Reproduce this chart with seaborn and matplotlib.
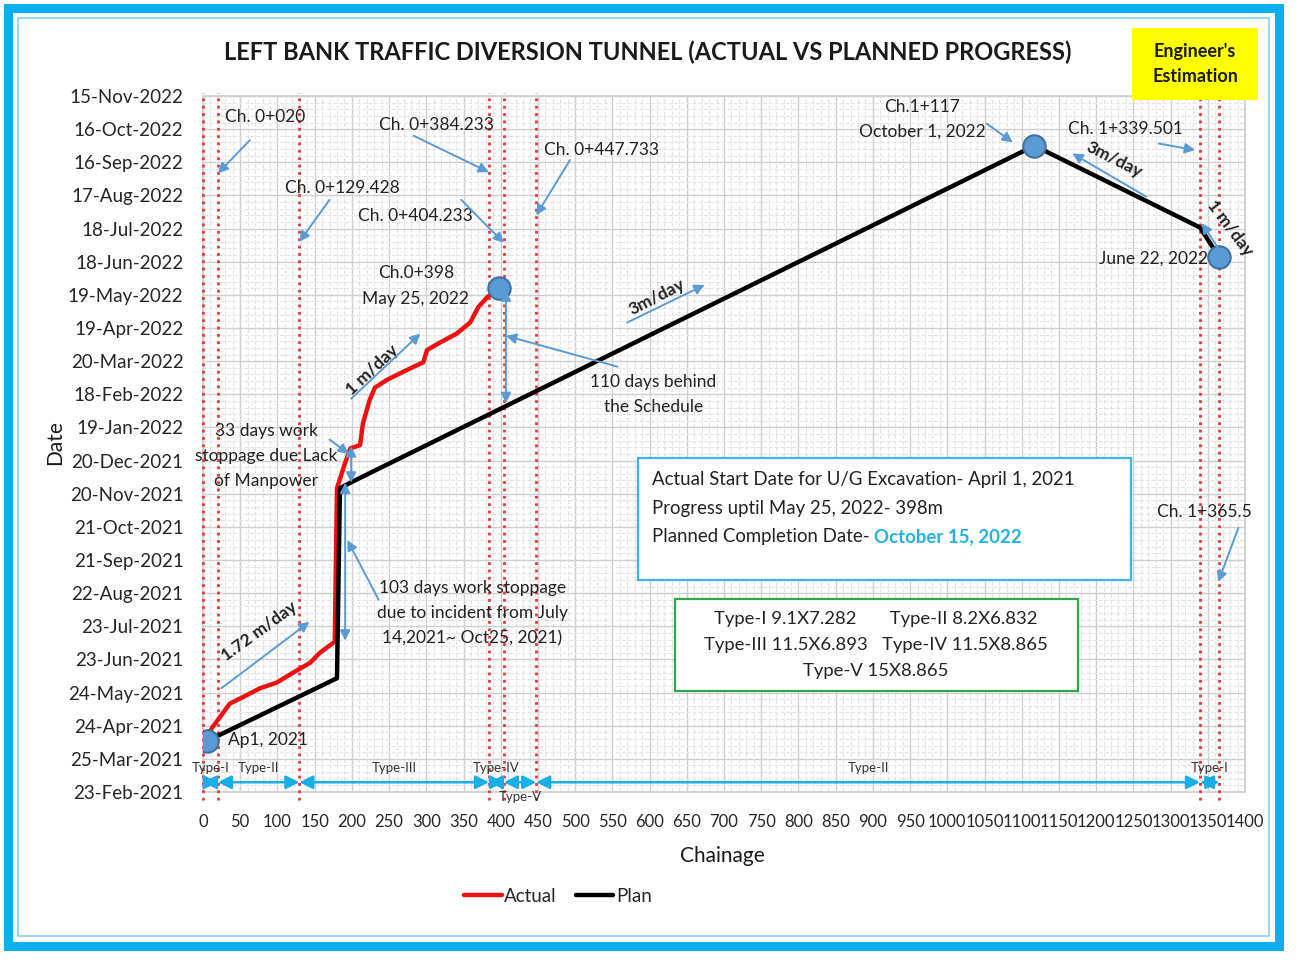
import pandas as pd
import matplotlib
matplotlib.use("Agg")
import matplotlib.pyplot as plt
import matplotlib.dates as mdates
import matplotlib.transforms as mtransforms
from matplotlib.ticker import MultipleLocator, FixedLocator
from matplotlib.patches import Rectangle
import seaborn as sns

# -----------------------------
# Data
# -----------------------------
actual_chainage = [5, 12, 23, 36, 54, 77, 99, 121, 144, 157, 177, 180, 191, 198, 211, 215,
                   224, 231, 247, 274, 296, 301, 319, 341, 359, 370, 382, 398]
actual_date = ["2021-04-10", "2021-04-22", "2021-05-02", "2021-05-14", "2021-05-20",
               "2021-05-28", "2021-06-02", "2021-06-11", "2021-06-20", "2021-06-29",
               "2021-07-09", "2021-11-25", "2021-12-18", "2021-12-31", "2022-01-03",
               "2022-01-23", "2022-02-13", "2022-02-24", "2022-03-03", "2022-03-12",
               "2022-03-19", "2022-03-30", "2022-04-06", "2022-04-14", "2022-04-24",
               "2022-05-08", "2022-05-17", "2022-05-25"]

plan_chainage = [5, 180, 184, 198, 1117, 1339.501, 1365.5]
plan_date = ["2021-04-10", "2021-06-06", "2021-11-25", "2021-11-30",
             "2022-10-01", "2022-07-19", "2022-06-22"]

marker_chainage = [5, 398, 1117, 1365.5]
marker_date = ["2021-04-10", "2022-05-25", "2022-10-01", "2022-06-22"]

section_bounds = [0, 20, 129.428, 384.233, 404.233, 447.733, 1339.501, 1365.5]
section_types = ["Type-I", "Type-II", "Type-III", "Type-IV", "Type-V", "Type-II", "Type-I"]

ytick_labels = ["23-Feb-2021", "25-Mar-2021", "24-Apr-2021", "24-May-2021", "23-Jun-2021",
                "23-Jul-2021", "22-Aug-2021", "21-Sep-2021", "21-Oct-2021", "20-Nov-2021",
                "20-Dec-2021", "19-Jan-2022", "18-Feb-2022", "20-Mar-2022", "19-Apr-2022",
                "19-May-2022", "18-Jun-2022", "18-Jul-2022", "17-Aug-2022", "16-Sep-2022",
                "16-Oct-2022", "15-Nov-2022"]

# -----------------------------
# Build table
# -----------------------------
df = pd.concat([
    pd.DataFrame({"Chainage": actual_chainage, "Date": actual_date, "Series": "Actual"}),
    pd.DataFrame({"Chainage": plan_chainage, "Date": plan_date, "Series": "Plan"}),
], ignore_index=True)
df["Day"] = mdates.date2num(pd.to_datetime(df["Date"]))
markers = pd.DataFrame({"Chainage": marker_chainage,
                        "Day": mdates.date2num(pd.to_datetime(marker_date))})
ytick_days = mdates.date2num(pd.to_datetime(ytick_labels, format="%d-%b-%Y"))


def d(s):
    return mdates.date2num(pd.Timestamp(s))


sns.set_theme(style="white")
plt.rcParams['font.family'] = ['Lato', 'DejaVu Sans']

W, H = 1303, 963
fig = plt.figure(figsize=(W / 100, H / 100), dpi=100)
ax = fig.add_axes([203 / W, 1 - 792 / H, (1245 - 203) / W, (792 - 96) / H])

ARROW = "#5b9bd5"
CYAN = "#19aee6"
DOT_RED = "#e23a3a"

sns.lineplot(data=df, x="Chainage", y="Day", hue="Series",
             palette={"Actual": "#ee1111", "Plan": "black"},
             sort=False, estimator=None, linewidth=3.2, ax=ax, zorder=4)
sns.scatterplot(data=markers, x="Chainage", y="Day", s=260, color="#5b9bd5",
                edgecolor="#41719c", linewidth=1.5, ax=ax, zorder=6, legend=False)

ax.set_xlim(0, 1400)
ax.set_ylim(ytick_days[0], ytick_days[-1])
ax.xaxis.set_major_locator(MultipleLocator(50))
ax.xaxis.set_minor_locator(MultipleLocator(10))
ax.yaxis.set_major_locator(FixedLocator(ytick_days))
ax.set_yticklabels(ytick_labels)
ax.yaxis.set_minor_locator(MultipleLocator(6, offset=ytick_days[0]))
ax.grid(True, which="major", color="#cfcfcf", lw=1.0)
ax.grid(True, which="minor", color="#e4e4e4", lw=0.8, ls="--")
ax.set_axisbelow(True)
ax.tick_params(axis="both", which="both", length=0)
ax.tick_params(axis="y", labelsize=13.5, pad=14)
ax.tick_params(axis="x", labelsize=12, pad=16)
for sp in ax.spines.values():
    sp.set_color("#cfcfcf")
ax.set_xlabel("")
ax.set_ylabel("")

# chainage marker lines
for ch in section_bounds:
    ax.axvline(ch, ymin=-0.012, ymax=1.005, color=DOT_RED, ls=":", lw=2.0,
               clip_on=False, zorder=3)

# section type bands along the bottom
band = mtransforms.blended_transform_factory(ax.transData, ax.transAxes)
for i, name in enumerate(section_types):
    x0, x1 = section_bounds[i], section_bounds[i + 1]
    ax.annotate("", xy=(x1, 0.014), xytext=(x0, 0.014), xycoords=band, textcoords=band,
                arrowprops=dict(arrowstyle="<|-|>", color=CYAN, lw=1.8, mutation_scale=20,
                                shrinkA=0, shrinkB=0), annotation_clip=False, zorder=5)
    ly, va = (0.026, "bottom") if name != "Type-V" else (0.002, "top")
    ax.text((x0 + x1) / 2, ly, name, transform=band, ha="center", va=va,
            fontsize=9.5, color="#333333", zorder=6)


def note(text, x, y, **kw):
    kw.setdefault("fontsize", 12.5)
    kw.setdefault("ha", "center")
    kw.setdefault("va", "center")
    kw.setdefault("linespacing", 1.7)
    ax.text(x, d(y), text, color="#222222", zorder=7, **kw)


def arrow(x0, y0, x1, y1, style="-|>"):
    ax.annotate("", xy=(x1, d(y1)), xytext=(x0, d(y0)),
                arrowprops=dict(arrowstyle=style, color=ARROW, lw=1.4, mutation_scale=15,
                                shrinkA=0, shrinkB=0), zorder=7)


note("Ch. 0+020", 83, "2022-10-27")
arrow(63, "2022-10-06", 20, "2022-09-06")
note("Ch. 0+129.428", 187, "2022-08-24")
arrow(170, "2022-08-13", 129.4, "2022-07-06")
note("Ch. 0+384.233", 314, "2022-10-20")
arrow(283, "2022-10-10", 384.2, "2022-09-07")
note("Ch. 0+404.233", 285, "2022-07-29")
arrow(347, "2022-08-13", 404.2, "2022-07-05")
note("Ch. 0+447.733", 535, "2022-09-27")
arrow(493, "2022-09-18", 447.7, "2022-07-30")
note("Ch.0+398\nMay 25, 2022", 286, "2022-05-27")
note("Ch.1+117\nOctober 1, 2022", 966, "2022-10-25")
arrow(1053, "2022-10-21", 1088, "2022-10-04")
note("Ch. 1+339.501", 1240, "2022-10-16")
arrow(1284, "2022-10-03", 1333, "2022-09-27")
note("June 22, 2022", 1277, "2022-06-21")
note("Ch. 1+365.5", 1345, "2021-11-03")
arrow(1391, "2021-10-20", 1364, "2021-09-01")
note("Ap1, 2021", 33, "2021-04-11", ha="left")
note("33 days work\nstoppage due Lack\nof Manpower", 85, "2021-12-24")
arrow(170, "2022-01-08", 196, "2021-12-26")
arrow(199, "2022-01-02", 199, "2021-11-30", style="<|-|>")
note("103 days work stoppage\ndue to incident from July\n14,2021~ Oct25, 2021)", 362,
     "2021-08-04")
arrow(236, "2021-08-16", 194, "2021-10-09")
arrow(191, "2021-11-30", 191, "2021-07-10", style="<|-|>")
note("110 days behind\nthe Schedule", 605, "2022-02-18")
arrow(557, "2022-03-15", 407, "2022-04-12")
arrow(407, "2022-05-23", 407, "2022-02-10", style="<|-|>")

# rate labels
for txt, x, y, rot in [("1.72 m/day", 76, "2021-07-18", 36), ("1 m/day", 227, "2022-03-12", 43),
                       ("3m/day", 610, "2022-05-17", 27), ("3m/day", 1224, "2022-09-18", -27),
                       ("1 m/day", 1380, "2022-07-18", -53)]:
    note(txt, x, y, rotation=rot, fontweight="bold", fontsize=12.5, rotation_mode="anchor")
arrow(25, "2021-05-28", 143, "2021-07-27")
arrow(199, "2022-02-14", 292, "2022-04-14")
arrow(570, "2022-04-24", 674, "2022-05-28")
arrow(1267, "2022-08-16", 1168, "2022-09-24")
arrow(1375, "2022-06-19", 1342, "2022-07-23")

# info boxes
ax.add_patch(Rectangle((0.4175, 0.3046), 0.4731, 0.1753, transform=ax.transAxes, fill=True,
                       facecolor="white", edgecolor="#3cb5e5", lw=1.6, zorder=6))
for i, line in enumerate(["Actual Start Date for U/G Excavation- April 1, 2021",
                          "Progress uptil May 25, 2022- 398m"]):
    ax.text(0.4309, 0.4497 - i * 0.0417, line, transform=ax.transAxes, fontsize=13.4,
            va="center", ha="left", color="#222222", zorder=7)
t3 = ax.text(0.4309, 0.3664, "Planned Completion Date- ", transform=ax.transAxes,
             fontsize=13.4, va="center", ha="left", color="#222222", zorder=7)
ax.annotate("October 15, 2022", xy=(1, 0), xycoords=t3, va="bottom", ha="left",
            fontsize=13.4, fontweight="bold", color="#22b0e6", zorder=7)

ax.add_patch(Rectangle((0.453, 0.1451), 0.3867, 0.1322, transform=ax.transAxes, fill=True,
                       facecolor="white", edgecolor="#2ea84a", lw=1.6, zorder=6))
ax.text(0.646, 0.2112, "Type-I 9.1X7.282       Type-II 8.2X6.832\n"
        "Type-III 11.5X6.893   Type-IV 11.5X8.865\nType-V 15X8.865",
        transform=ax.transAxes, fontsize=13.3, ha="center", va="center",
        multialignment="center", linespacing=1.76, color="#222222", zorder=7)

# legend
sns.move_legend(ax, "center", bbox_to_anchor=(558 / W, 1 - 896 / H),
                bbox_transform=fig.transFigure, ncol=2, frameon=False, title=None,
                fontsize=13.5, handlelength=2.0, handletextpad=0.15, columnspacing=1.0)

# titles and labels
fig.text(648 / W, 1 - 52 / H, "LEFT BANK TRAFFIC DIVERSION TUNNEL (ACTUAL VS PLANNED PROGRESS)",
         ha="center", va="center", fontsize=17, fontweight="bold", color="#1a1a1a")
fig.text(55 / W, 1 - 443 / H, "Date", rotation=90, ha="center", va="center", fontsize=15,
         color="#1a1a1a")
fig.text(722 / W, 1 - 856 / H, "Chainage", ha="center", va="center", fontsize=15,
         color="#1a1a1a")

fig.patches.append(Rectangle((1132 / W, 1 - 100 / H), 126 / W, 72 / H, transform=fig.transFigure,
                             facecolor="#ffff00", edgecolor="none", zorder=1))
fig.text(1195 / W, 1 - 64 / H, "Engineer's\nEstimation", ha="center", va="center", fontsize=13,
         fontweight="bold", linespacing=1.6, color="#1a1a1a")

# outer frame
fig.patches.append(Rectangle((8 / W, 1 - 946 / H), 1271 / W, 938 / H, transform=fig.transFigure,
                             fill=False, edgecolor="#0ab0ef", lw=6.5))
fig.patches.append(Rectangle((18 / W, 1 - 936 / H), 1251 / W, 918 / H, transform=fig.transFigure,
                             fill=False, edgecolor="#7fd3f2", lw=1.2))

fig.savefig("out.png", dpi=100)
